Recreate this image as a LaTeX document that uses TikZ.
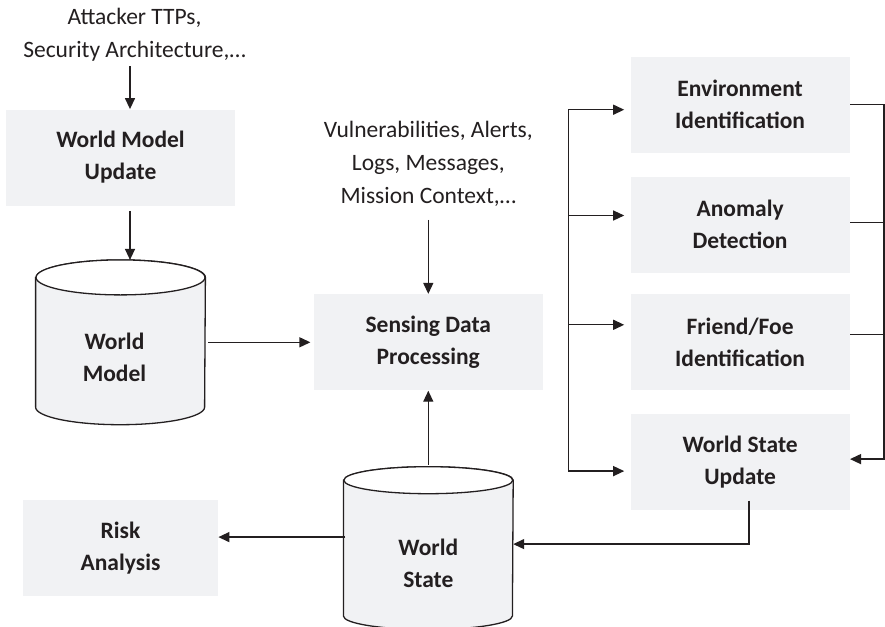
\documentclass[tikz,border=0pt]{standalone}
\usepackage{fontspec}
\setmainfont{Carlito}
\usetikzlibrary{positioning,arrows.meta}
\definecolor{ink}{HTML}{231F20}
\definecolor{pale}{HTML}{F1F2F4}

\begin{document}
\begin{tikzpicture}[node distance=11pt and 54pt,
 box/.style={fill=pale,align=center,text=ink,inner sep=2pt,
 font=\fontsize{11.75}{16}\selectfont\bfseries,minimum height=48pt,minimum width=114.5pt},
 stage/.style={box,minimum width=109.5pt},
 dbfield/.style={minimum width=84.5pt,minimum height=82pt,inner sep=0pt},
 dblabel/.style={align=center,text=ink,inner sep=0pt,font=\fontsize{11.75}{16}\selectfont\bfseries},
 txt/.style={align=center,text=ink,inner sep=0pt,font=\fontsize{11.75}{16.5}\selectfont},
 arr/.style={-{Triangle[length=5.5pt,width=5pt]},line width=0.65pt,draw=ink},
 wire/.style={line width=0.65pt,draw=ink}]
\useasboundingbox (0,0) rectangle (442.5pt,-313.5pt);
% left column
\node[box] (wmu) at (60.25pt,-78.75pt) {World Model\\Update};
\node[txt,above=23.5pt of wmu,xshift=7pt] (ttp) {Attacker TTPs,\\Security Architecture,…};
\node[dbfield,below=27pt of wmu] (wm) {};
% middle column
\node[box,right=54pt of wm] (sdp) {Sensing Data\\Processing};
\node[txt,above=43.5pt of sdp] (vuln) {Vulnerabilities, Alerts,\\Logs, Messages,\\Mission Context,…};
\node[dbfield,below=38pt of sdp,minimum height=81pt] (ws) {};
\node[box,left=62.5pt of ws,minimum width=97.5pt] (risk) {Risk\\Analysis};
% right column
\node[stage,right=43.5pt of sdp] (ff) {Friend/Foe\\Identification};
\node[stage,above=10.5pt of ff] (anom) {Anomaly\\Detection};
\node[stage,above=11.5pt of anom] (env) {Environment\\Identification};
\node[stage,below=11.5pt of ff] (wsu) {World State\\Update};
% the two stores as drums
\foreach \c/\ry in {wm/8.75pt,ws/6.75pt} {
 \draw[wire,fill=pale] ([yshift=-\ry]\c.north west) -- ([yshift=\ry]\c.south west)
 arc[start angle=180,end angle=360,x radius=42.25pt,y radius=\ry]
 -- ([yshift=-\ry]\c.north east)
 arc[start angle=0,end angle=180,x radius=42.25pt,y radius=\ry] -- cycle;
 \draw[wire,fill=white] ([yshift=-\ry]\c.north) ellipse[x radius=42.25pt,y radius=\ry];
}
\node[dblabel] (wmtext) at ([xshift=-3pt,yshift=-7.5pt]wm.center) {World\\Model};
\node[dblabel] (wstext) at ([yshift=-7.5pt]ws.center) {World\\State};
% connectors
\draw[arr] ([xshift=4.75pt]wmu.north |- ttp.south) ++(0,-2pt) -- ([xshift=4.75pt]wmu.north);
\draw[arr,shorten <=2.5pt] ([xshift=4.75pt]wmu.south) -- ([xshift=4.75pt]wmu.south |- wm.north);
\draw[arr,shorten <=1.5pt,shorten >=1.5pt] (wm) -- (sdp);
\draw[arr,shorten <=6.5pt] (vuln) -- (sdp);
\draw[arr] (ws.north) ++(0,1pt) -- (sdp.south);
\draw[arr] ([xshift=1pt,yshift=5.5pt]ws.west) -- ([yshift=5.5pt]risk.east);
\draw[arr] ([xshift=4.5pt,yshift=5pt]wsu.south) |- ([yshift=2pt]ws.east);
% fan-out to the analysis steps
\draw[wire] ([xshift=-31pt,yshift=-2.5pt]env.west) -- ([xshift=-31pt,yshift=-4.5pt]wsu.west);
\foreach \n/\dy in {env/-2.5,anom/4.5,ff/8.75,wsu/-4.5}
 \draw[arr,shorten >=3pt] ([xshift=-31pt,yshift=\dy pt]\n.west) -- ([yshift=\dy pt]\n.west);
% merge back into the update
\coordinate[right=17pt of env.east] (rbus);
\draw[arr] (env.east) -| ([yshift=1.5pt]rbus |- wsu.east) -- ([yshift=1.5pt]wsu.east);
\draw[wire] ([yshift=1pt]anom.east) -- ([yshift=1pt]anom.east -| rbus);
\draw[wire] ([yshift=3.75pt]ff.east) -- ([yshift=3.75pt]ff.east -| rbus);
\end{tikzpicture}
\end{document}
